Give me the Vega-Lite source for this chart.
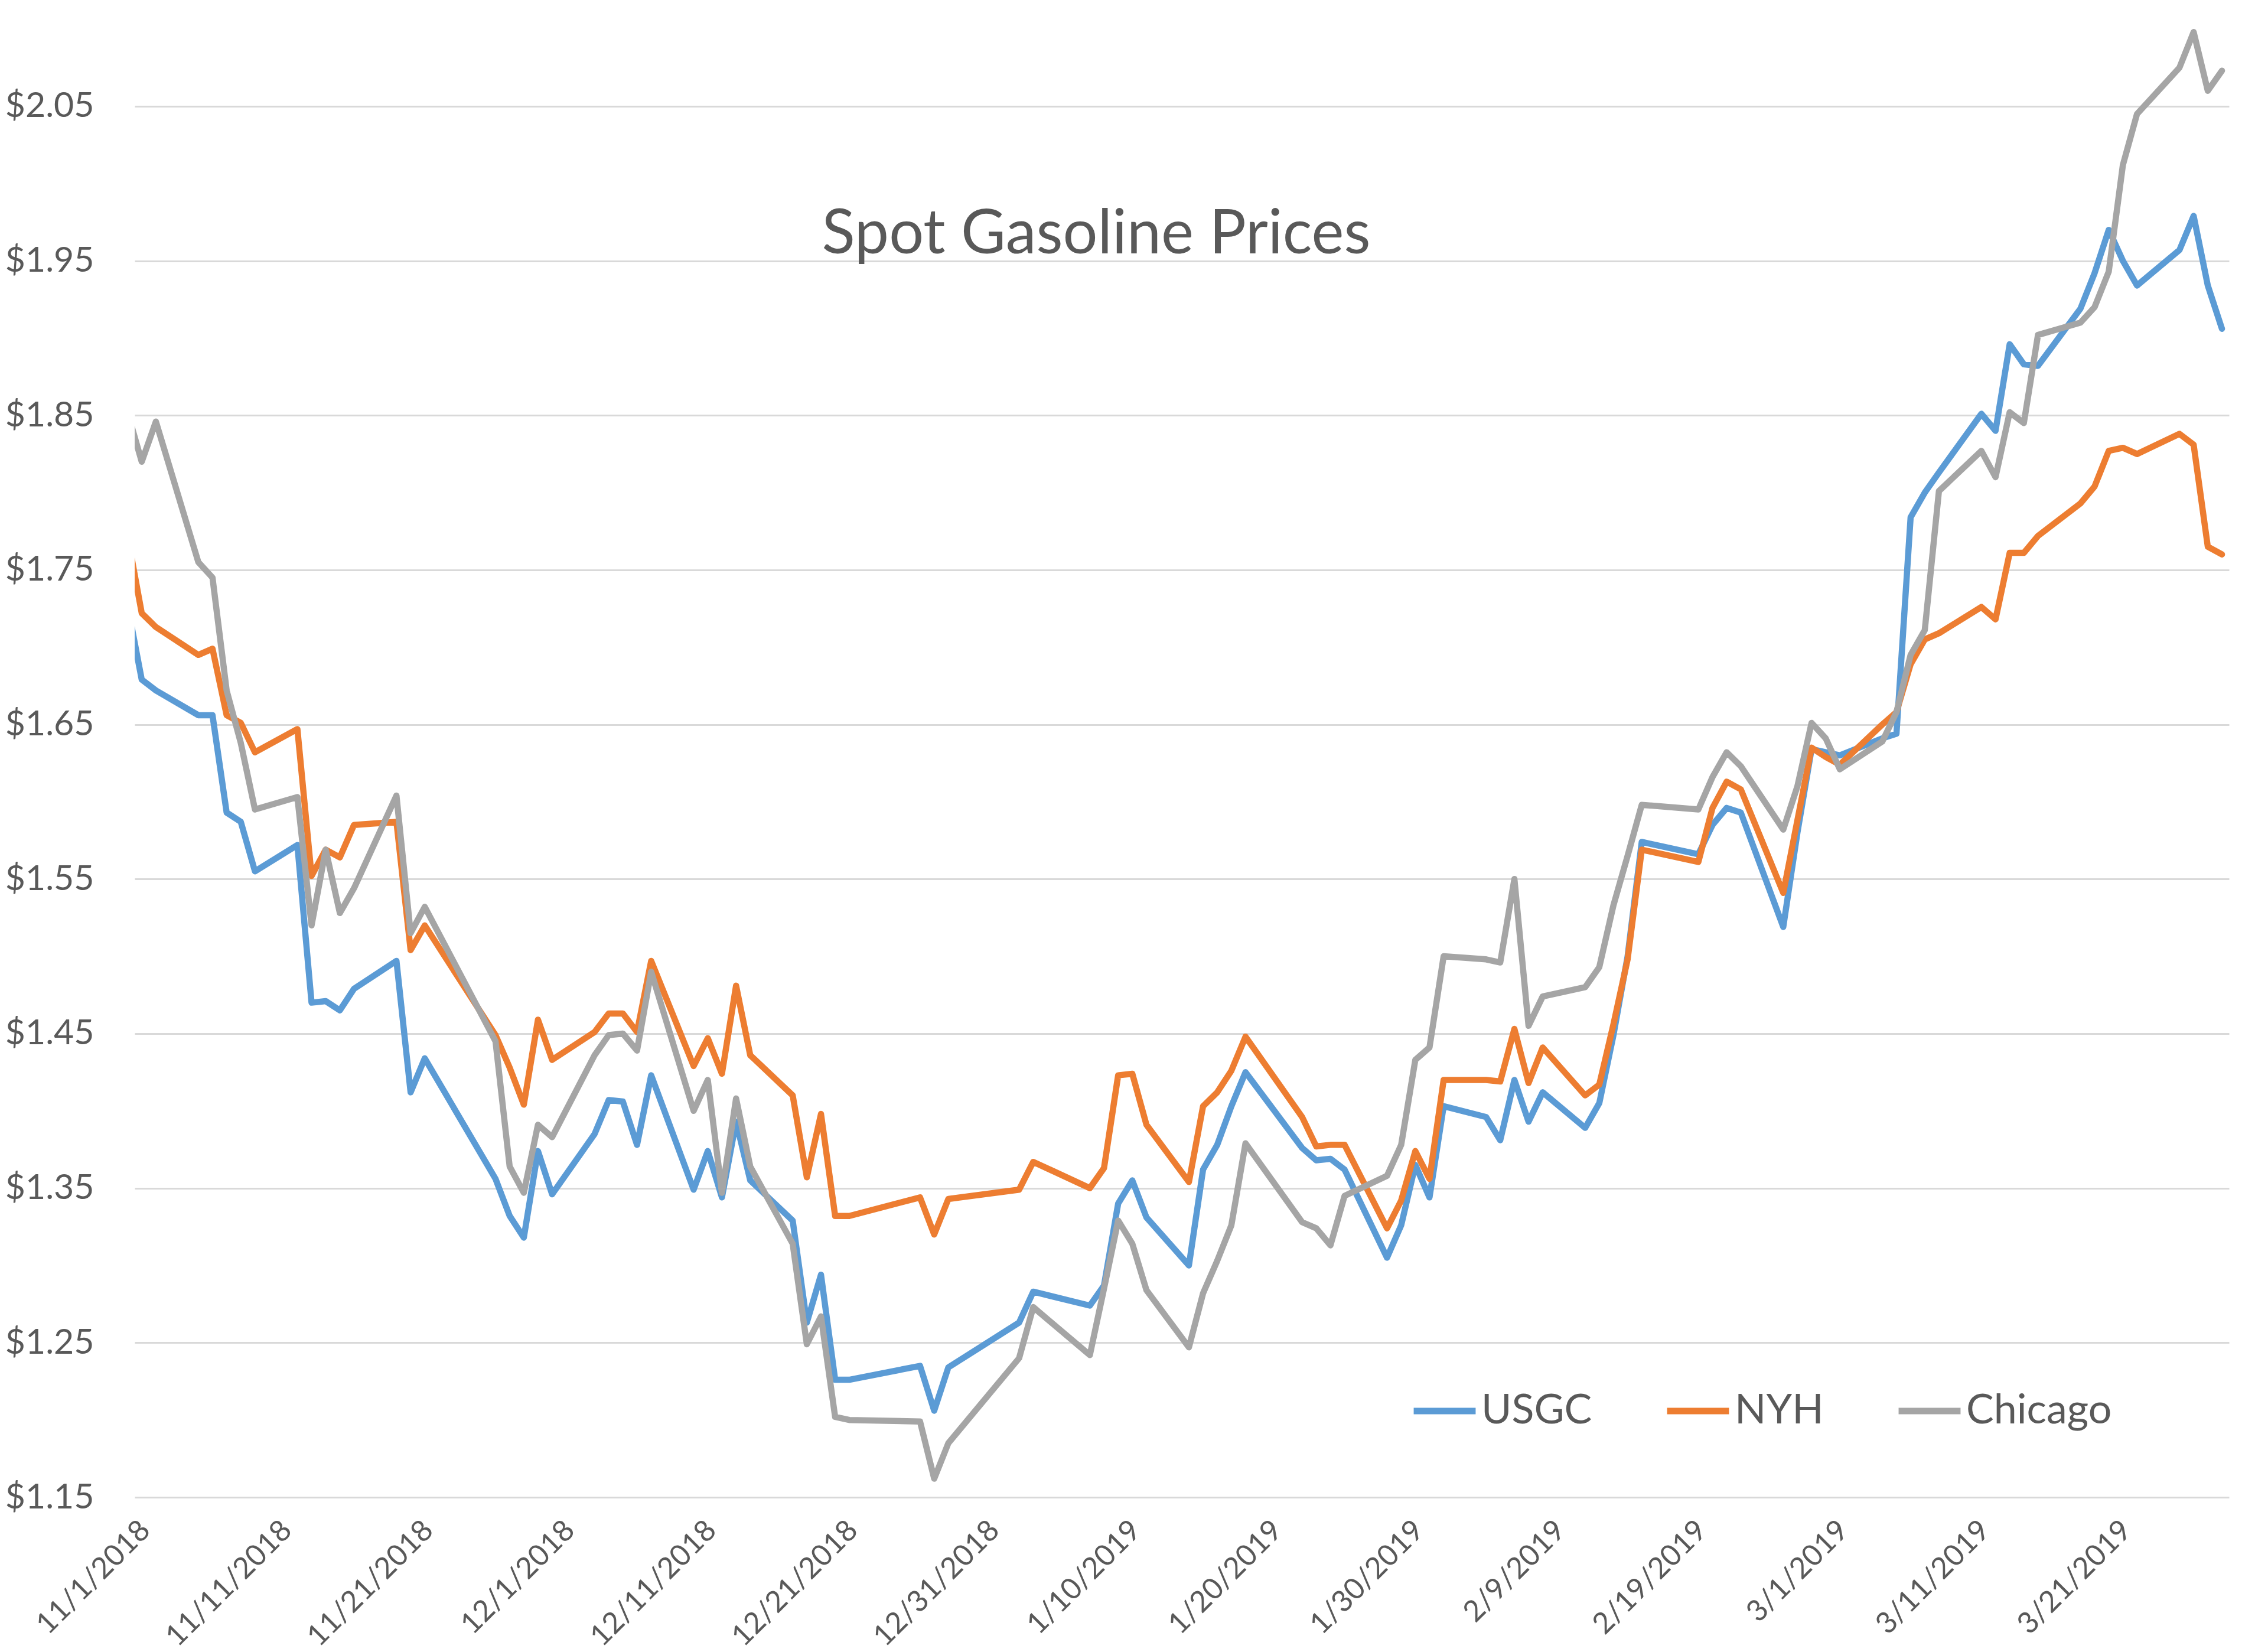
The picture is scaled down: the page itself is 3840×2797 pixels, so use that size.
{
  "$schema": "https://vega.github.io/schema/vega-lite/v6.json",
  "width": 3546,
  "height": 2486,
  "autosize": {"type": "none"},
  "padding": {"left": 228, "top": 49, "right": 66, "bottom": 262},
  "background": "white",
  "config": {"view": {"stroke": null}, "font": "Lato"},
  "title": {"text": "Spot Gasoline Prices", "fontSize": 104, "font": "Lato", "fontWeight": "normal", "color": "#595959", "anchor": "middle", "frame": "group", "baseline": "middle", "offset": -453, "dx": -145},
  "data": {"values": [
    {"date":"2018-10-31","hub":"USGC","price":1.727},
    {"date":"2018-11-01","hub":"USGC","price":1.679},
    {"date":"2018-11-02","hub":"USGC","price":1.672},
    {"date":"2018-11-05","hub":"USGC","price":1.656},
    {"date":"2018-11-06","hub":"USGC","price":1.656},
    {"date":"2018-11-07","hub":"USGC","price":1.593},
    {"date":"2018-11-08","hub":"USGC","price":1.587},
    {"date":"2018-11-09","hub":"USGC","price":1.555},
    {"date":"2018-11-12","hub":"USGC","price":1.572},
    {"date":"2018-11-13","hub":"USGC","price":1.470},
    {"date":"2018-11-14","hub":"USGC","price":1.471},
    {"date":"2018-11-15","hub":"USGC","price":1.465},
    {"date":"2018-11-16","hub":"USGC","price":1.479},
    {"date":"2018-11-19","hub":"USGC","price":1.497},
    {"date":"2018-11-20","hub":"USGC","price":1.412},
    {"date":"2018-11-21","hub":"USGC","price":1.434},
    {"date":"2018-11-26","hub":"USGC","price":1.356},
    {"date":"2018-11-27","hub":"USGC","price":1.332},
    {"date":"2018-11-28","hub":"USGC","price":1.318},
    {"date":"2018-11-29","hub":"USGC","price":1.374},
    {"date":"2018-11-30","hub":"USGC","price":1.346},
    {"date":"2018-12-03","hub":"USGC","price":1.385},
    {"date":"2018-12-04","hub":"USGC","price":1.407},
    {"date":"2018-12-05","hub":"USGC","price":1.406},
    {"date":"2018-12-06","hub":"USGC","price":1.378},
    {"date":"2018-12-07","hub":"USGC","price":1.423},
    {"date":"2018-12-10","hub":"USGC","price":1.349},
    {"date":"2018-12-11","hub":"USGC","price":1.374},
    {"date":"2018-12-12","hub":"USGC","price":1.344},
    {"date":"2018-12-13","hub":"USGC","price":1.393},
    {"date":"2018-12-14","hub":"USGC","price":1.355},
    {"date":"2018-12-17","hub":"USGC","price":1.329},
    {"date":"2018-12-18","hub":"USGC","price":1.263},
    {"date":"2018-12-19","hub":"USGC","price":1.294},
    {"date":"2018-12-20","hub":"USGC","price":1.226},
    {"date":"2018-12-21","hub":"USGC","price":1.226},
    {"date":"2018-12-26","hub":"USGC","price":1.235},
    {"date":"2018-12-27","hub":"USGC","price":1.206},
    {"date":"2018-12-28","hub":"USGC","price":1.234},
    {"date":"2019-01-02","hub":"USGC","price":1.263},
    {"date":"2019-01-03","hub":"USGC","price":1.283},
    {"date":"2019-01-07","hub":"USGC","price":1.274},
    {"date":"2019-01-08","hub":"USGC","price":1.287},
    {"date":"2019-01-09","hub":"USGC","price":1.340},
    {"date":"2019-01-10","hub":"USGC","price":1.355},
    {"date":"2019-01-11","hub":"USGC","price":1.331},
    {"date":"2019-01-14","hub":"USGC","price":1.300},
    {"date":"2019-01-15","hub":"USGC","price":1.362},
    {"date":"2019-01-16","hub":"USGC","price":1.378},
    {"date":"2019-01-17","hub":"USGC","price":1.403},
    {"date":"2019-01-18","hub":"USGC","price":1.425},
    {"date":"2019-01-22","hub":"USGC","price":1.376},
    {"date":"2019-01-23","hub":"USGC","price":1.368},
    {"date":"2019-01-24","hub":"USGC","price":1.369},
    {"date":"2019-01-25","hub":"USGC","price":1.362},
    {"date":"2019-01-28","hub":"USGC","price":1.305},
    {"date":"2019-01-29","hub":"USGC","price":1.326},
    {"date":"2019-01-30","hub":"USGC","price":1.365},
    {"date":"2019-01-31","hub":"USGC","price":1.344},
    {"date":"2019-02-01","hub":"USGC","price":1.403},
    {"date":"2019-02-04","hub":"USGC","price":1.396},
    {"date":"2019-02-05","hub":"USGC","price":1.381},
    {"date":"2019-02-06","hub":"USGC","price":1.420},
    {"date":"2019-02-07","hub":"USGC","price":1.393},
    {"date":"2019-02-08","hub":"USGC","price":1.412},
    {"date":"2019-02-11","hub":"USGC","price":1.389},
    {"date":"2019-02-12","hub":"USGC","price":1.405},
    {"date":"2019-02-13","hub":"USGC","price":1.449},
    {"date":"2019-02-14","hub":"USGC","price":1.500},
    {"date":"2019-02-15","hub":"USGC","price":1.574},
    {"date":"2019-02-19","hub":"USGC","price":1.566},
    {"date":"2019-02-20","hub":"USGC","price":1.585},
    {"date":"2019-02-21","hub":"USGC","price":1.596},
    {"date":"2019-02-22","hub":"USGC","price":1.593},
    {"date":"2019-02-25","hub":"USGC","price":1.519},
    {"date":"2019-02-26","hub":"USGC","price":1.580},
    {"date":"2019-02-27","hub":"USGC","price":1.634},
    {"date":"2019-02-28","hub":"USGC","price":1.632},
    {"date":"2019-03-01","hub":"USGC","price":1.630},
    {"date":"2019-03-04","hub":"USGC","price":1.641},
    {"date":"2019-03-05","hub":"USGC","price":1.644},
    {"date":"2019-03-06","hub":"USGC","price":1.784},
    {"date":"2019-03-07","hub":"USGC","price":1.800},
    {"date":"2019-03-08","hub":"USGC","price":1.813},
    {"date":"2019-03-11","hub":"USGC","price":1.851},
    {"date":"2019-03-12","hub":"USGC","price":1.840},
    {"date":"2019-03-13","hub":"USGC","price":1.896},
    {"date":"2019-03-14","hub":"USGC","price":1.883},
    {"date":"2019-03-15","hub":"USGC","price":1.882},
    {"date":"2019-03-18","hub":"USGC","price":1.919},
    {"date":"2019-03-19","hub":"USGC","price":1.942},
    {"date":"2019-03-20","hub":"USGC","price":1.970},
    {"date":"2019-03-21","hub":"USGC","price":1.950},
    {"date":"2019-03-22","hub":"USGC","price":1.934},
    {"date":"2019-03-25","hub":"USGC","price":1.957},
    {"date":"2019-03-26","hub":"USGC","price":1.979},
    {"date":"2019-03-27","hub":"USGC","price":1.934},
    {"date":"2019-03-28","hub":"USGC","price":1.906},

    {"date":"2018-10-31","hub":"NYH","price":1.772},
    {"date":"2018-11-01","hub":"NYH","price":1.722},
    {"date":"2018-11-02","hub":"NYH","price":1.713},
    {"date":"2018-11-05","hub":"NYH","price":1.695},
    {"date":"2018-11-06","hub":"NYH","price":1.699},
    {"date":"2018-11-07","hub":"NYH","price":1.656},
    {"date":"2018-11-08","hub":"NYH","price":1.651},
    {"date":"2018-11-09","hub":"NYH","price":1.632},
    {"date":"2018-11-12","hub":"NYH","price":1.647},
    {"date":"2018-11-13","hub":"NYH","price":1.552},
    {"date":"2018-11-14","hub":"NYH","price":1.569},
    {"date":"2018-11-15","hub":"NYH","price":1.564},
    {"date":"2018-11-16","hub":"NYH","price":1.585},
    {"date":"2018-11-19","hub":"NYH","price":1.587},
    {"date":"2018-11-20","hub":"NYH","price":1.504},
    {"date":"2018-11-21","hub":"NYH","price":1.520},
    {"date":"2018-11-26","hub":"NYH","price":1.449},
    {"date":"2018-11-27","hub":"NYH","price":1.428},
    {"date":"2018-11-28","hub":"NYH","price":1.404},
    {"date":"2018-11-29","hub":"NYH","price":1.459},
    {"date":"2018-11-30","hub":"NYH","price":1.433},
    {"date":"2018-12-03","hub":"NYH","price":1.451},
    {"date":"2018-12-04","hub":"NYH","price":1.463},
    {"date":"2018-12-05","hub":"NYH","price":1.463},
    {"date":"2018-12-06","hub":"NYH","price":1.451},
    {"date":"2018-12-07","hub":"NYH","price":1.497},
    {"date":"2018-12-10","hub":"NYH","price":1.429},
    {"date":"2018-12-11","hub":"NYH","price":1.447},
    {"date":"2018-12-12","hub":"NYH","price":1.424},
    {"date":"2018-12-13","hub":"NYH","price":1.481},
    {"date":"2018-12-14","hub":"NYH","price":1.436},
    {"date":"2018-12-17","hub":"NYH","price":1.410},
    {"date":"2018-12-18","hub":"NYH","price":1.357},
    {"date":"2018-12-19","hub":"NYH","price":1.398},
    {"date":"2018-12-20","hub":"NYH","price":1.332},
    {"date":"2018-12-21","hub":"NYH","price":1.332},
    {"date":"2018-12-26","hub":"NYH","price":1.344},
    {"date":"2018-12-27","hub":"NYH","price":1.320},
    {"date":"2018-12-28","hub":"NYH","price":1.343},
    {"date":"2019-01-02","hub":"NYH","price":1.349},
    {"date":"2019-01-03","hub":"NYH","price":1.367},
    {"date":"2019-01-07","hub":"NYH","price":1.350},
    {"date":"2019-01-08","hub":"NYH","price":1.363},
    {"date":"2019-01-09","hub":"NYH","price":1.423},
    {"date":"2019-01-10","hub":"NYH","price":1.424},
    {"date":"2019-01-11","hub":"NYH","price":1.391},
    {"date":"2019-01-14","hub":"NYH","price":1.354},
    {"date":"2019-01-15","hub":"NYH","price":1.403},
    {"date":"2019-01-16","hub":"NYH","price":1.412},
    {"date":"2019-01-17","hub":"NYH","price":1.426},
    {"date":"2019-01-18","hub":"NYH","price":1.448},
    {"date":"2019-01-22","hub":"NYH","price":1.396},
    {"date":"2019-01-23","hub":"NYH","price":1.377},
    {"date":"2019-01-24","hub":"NYH","price":1.378},
    {"date":"2019-01-25","hub":"NYH","price":1.378},
    {"date":"2019-01-28","hub":"NYH","price":1.324},
    {"date":"2019-01-29","hub":"NYH","price":1.342},
    {"date":"2019-01-30","hub":"NYH","price":1.374},
    {"date":"2019-01-31","hub":"NYH","price":1.356},
    {"date":"2019-02-01","hub":"NYH","price":1.420},
    {"date":"2019-02-04","hub":"NYH","price":1.420},
    {"date":"2019-02-05","hub":"NYH","price":1.419},
    {"date":"2019-02-06","hub":"NYH","price":1.453},
    {"date":"2019-02-07","hub":"NYH","price":1.418},
    {"date":"2019-02-08","hub":"NYH","price":1.441},
    {"date":"2019-02-11","hub":"NYH","price":1.410},
    {"date":"2019-02-12","hub":"NYH","price":1.417},
    {"date":"2019-02-13","hub":"NYH","price":1.456},
    {"date":"2019-02-14","hub":"NYH","price":1.498},
    {"date":"2019-02-15","hub":"NYH","price":1.569},
    {"date":"2019-02-19","hub":"NYH","price":1.561},
    {"date":"2019-02-20","hub":"NYH","price":1.596},
    {"date":"2019-02-21","hub":"NYH","price":1.613},
    {"date":"2019-02-22","hub":"NYH","price":1.608},
    {"date":"2019-02-25","hub":"NYH","price":1.541},
    {"date":"2019-02-26","hub":"NYH","price":1.588},
    {"date":"2019-02-27","hub":"NYH","price":1.635},
    {"date":"2019-02-28","hub":"NYH","price":1.629},
    {"date":"2019-03-01","hub":"NYH","price":1.624},
    {"date":"2019-03-04","hub":"NYH","price":1.650},
    {"date":"2019-03-05","hub":"NYH","price":1.658},
    {"date":"2019-03-06","hub":"NYH","price":1.689},
    {"date":"2019-03-07","hub":"NYH","price":1.705},
    {"date":"2019-03-08","hub":"NYH","price":1.709},
    {"date":"2019-03-11","hub":"NYH","price":1.726},
    {"date":"2019-03-12","hub":"NYH","price":1.718},
    {"date":"2019-03-13","hub":"NYH","price":1.761},
    {"date":"2019-03-14","hub":"NYH","price":1.761},
    {"date":"2019-03-15","hub":"NYH","price":1.772},
    {"date":"2019-03-18","hub":"NYH","price":1.793},
    {"date":"2019-03-19","hub":"NYH","price":1.804},
    {"date":"2019-03-20","hub":"NYH","price":1.827},
    {"date":"2019-03-21","hub":"NYH","price":1.829},
    {"date":"2019-03-22","hub":"NYH","price":1.825},
    {"date":"2019-03-25","hub":"NYH","price":1.838},
    {"date":"2019-03-26","hub":"NYH","price":1.831},
    {"date":"2019-03-27","hub":"NYH","price":1.765},
    {"date":"2019-03-28","hub":"NYH","price":1.760},

    {"date":"2018-10-31","hub":"Chicago","price":1.852},
    {"date":"2018-11-01","hub":"Chicago","price":1.820},
    {"date":"2018-11-02","hub":"Chicago","price":1.846},
    {"date":"2018-11-05","hub":"Chicago","price":1.755},
    {"date":"2018-11-06","hub":"Chicago","price":1.745},
    {"date":"2018-11-07","hub":"Chicago","price":1.672},
    {"date":"2018-11-08","hub":"Chicago","price":1.638},
    {"date":"2018-11-09","hub":"Chicago","price":1.595},
    {"date":"2018-11-12","hub":"Chicago","price":1.603},
    {"date":"2018-11-13","hub":"Chicago","price":1.520},
    {"date":"2018-11-14","hub":"Chicago","price":1.569},
    {"date":"2018-11-15","hub":"Chicago","price":1.528},
    {"date":"2018-11-16","hub":"Chicago","price":1.544},
    {"date":"2018-11-19","hub":"Chicago","price":1.604},
    {"date":"2018-11-20","hub":"Chicago","price":1.515},
    {"date":"2018-11-21","hub":"Chicago","price":1.532},
    {"date":"2018-11-26","hub":"Chicago","price":1.445},
    {"date":"2018-11-27","hub":"Chicago","price":1.364},
    {"date":"2018-11-28","hub":"Chicago","price":1.347},
    {"date":"2018-11-29","hub":"Chicago","price":1.391},
    {"date":"2018-11-30","hub":"Chicago","price":1.383},
    {"date":"2018-12-03","hub":"Chicago","price":1.436},
    {"date":"2018-12-04","hub":"Chicago","price":1.449},
    {"date":"2018-12-05","hub":"Chicago","price":1.450},
    {"date":"2018-12-06","hub":"Chicago","price":1.439},
    {"date":"2018-12-07","hub":"Chicago","price":1.490},
    {"date":"2018-12-10","hub":"Chicago","price":1.400},
    {"date":"2018-12-11","hub":"Chicago","price":1.420},
    {"date":"2018-12-12","hub":"Chicago","price":1.347},
    {"date":"2018-12-13","hub":"Chicago","price":1.408},
    {"date":"2018-12-14","hub":"Chicago","price":1.364},
    {"date":"2018-12-17","hub":"Chicago","price":1.314},
    {"date":"2018-12-18","hub":"Chicago","price":1.249},
    {"date":"2018-12-19","hub":"Chicago","price":1.267},
    {"date":"2018-12-20","hub":"Chicago","price":1.202},
    {"date":"2018-12-21","hub":"Chicago","price":1.200},
    {"date":"2018-12-26","hub":"Chicago","price":1.199},
    {"date":"2018-12-27","hub":"Chicago","price":1.162},
    {"date":"2018-12-28","hub":"Chicago","price":1.185},
    {"date":"2019-01-02","hub":"Chicago","price":1.240},
    {"date":"2019-01-03","hub":"Chicago","price":1.273},
    {"date":"2019-01-07","hub":"Chicago","price":1.242},
    {"date":"2019-01-08","hub":"Chicago","price":1.285},
    {"date":"2019-01-09","hub":"Chicago","price":1.329},
    {"date":"2019-01-10","hub":"Chicago","price":1.314},
    {"date":"2019-01-11","hub":"Chicago","price":1.284},
    {"date":"2019-01-14","hub":"Chicago","price":1.247},
    {"date":"2019-01-15","hub":"Chicago","price":1.282},
    {"date":"2019-01-16","hub":"Chicago","price":1.303},
    {"date":"2019-01-17","hub":"Chicago","price":1.326},
    {"date":"2019-01-18","hub":"Chicago","price":1.379},
    {"date":"2019-01-22","hub":"Chicago","price":1.328},
    {"date":"2019-01-23","hub":"Chicago","price":1.324},
    {"date":"2019-01-24","hub":"Chicago","price":1.313},
    {"date":"2019-01-25","hub":"Chicago","price":1.345},
    {"date":"2019-01-28","hub":"Chicago","price":1.358},
    {"date":"2019-01-29","hub":"Chicago","price":1.378},
    {"date":"2019-01-30","hub":"Chicago","price":1.433},
    {"date":"2019-01-31","hub":"Chicago","price":1.441},
    {"date":"2019-02-01","hub":"Chicago","price":1.500},
    {"date":"2019-02-04","hub":"Chicago","price":1.498},
    {"date":"2019-02-05","hub":"Chicago","price":1.496},
    {"date":"2019-02-06","hub":"Chicago","price":1.550},
    {"date":"2019-02-07","hub":"Chicago","price":1.455},
    {"date":"2019-02-08","hub":"Chicago","price":1.474},
    {"date":"2019-02-11","hub":"Chicago","price":1.480},
    {"date":"2019-02-12","hub":"Chicago","price":1.493},
    {"date":"2019-02-13","hub":"Chicago","price":1.533},
    {"date":"2019-02-14","hub":"Chicago","price":1.565},
    {"date":"2019-02-15","hub":"Chicago","price":1.598},
    {"date":"2019-02-19","hub":"Chicago","price":1.595},
    {"date":"2019-02-20","hub":"Chicago","price":1.616},
    {"date":"2019-02-21","hub":"Chicago","price":1.632},
    {"date":"2019-02-22","hub":"Chicago","price":1.623},
    {"date":"2019-02-25","hub":"Chicago","price":1.582},
    {"date":"2019-02-26","hub":"Chicago","price":1.610},
    {"date":"2019-02-27","hub":"Chicago","price":1.651},
    {"date":"2019-02-28","hub":"Chicago","price":1.641},
    {"date":"2019-03-01","hub":"Chicago","price":1.621},
    {"date":"2019-03-04","hub":"Chicago","price":1.639},
    {"date":"2019-03-05","hub":"Chicago","price":1.658},
    {"date":"2019-03-06","hub":"Chicago","price":1.695},
    {"date":"2019-03-07","hub":"Chicago","price":1.711},
    {"date":"2019-03-08","hub":"Chicago","price":1.801},
    {"date":"2019-03-11","hub":"Chicago","price":1.827},
    {"date":"2019-03-12","hub":"Chicago","price":1.810},
    {"date":"2019-03-13","hub":"Chicago","price":1.852},
    {"date":"2019-03-14","hub":"Chicago","price":1.845},
    {"date":"2019-03-15","hub":"Chicago","price":1.902},
    {"date":"2019-03-18","hub":"Chicago","price":1.910},
    {"date":"2019-03-19","hub":"Chicago","price":1.920},
    {"date":"2019-03-20","hub":"Chicago","price":1.943},
    {"date":"2019-03-21","hub":"Chicago","price":2.012},
    {"date":"2019-03-22","hub":"Chicago","price":2.045},
    {"date":"2019-03-25","hub":"Chicago","price":2.075},
    {"date":"2019-03-26","hub":"Chicago","price":2.098},
    {"date":"2019-03-27","hub":"Chicago","price":2.060},
    {"date":"2019-03-28","hub":"Chicago","price":2.073}
  ]},
  "mark": {"type": "line", "strokeWidth": 10.5, "clip": true, "strokeJoin": "round", "strokeCap": "round"},
  "encoding": {
    "x": {
      "field": "date", "type": "temporal",
      "scale": {"type": "utc", "domain": [
        {"year": 2018, "month": 10, "date": 31, "hours": 12, "utc": true},
        {"year": 2019, "month": 3, "date": 28, "hours": 12, "utc": true}
      ]},
      "axis": {
        "values": [
          {"year": 2018, "month": 11, "date": 1, "utc": true},
          {"year": 2018, "month": 11, "date": 11, "utc": true},
          {"year": 2018, "month": 11, "date": 21, "utc": true},
          {"year": 2018, "month": 12, "date": 1, "utc": true},
          {"year": 2018, "month": 12, "date": 11, "utc": true},
          {"year": 2018, "month": 12, "date": 21, "utc": true},
          {"year": 2018, "month": 12, "date": 31, "utc": true},
          {"year": 2019, "month": 1, "date": 10, "utc": true},
          {"year": 2019, "month": 1, "date": 20, "utc": true},
          {"year": 2019, "month": 1, "date": 30, "utc": true},
          {"year": 2019, "month": 2, "date": 9, "utc": true},
          {"year": 2019, "month": 2, "date": 19, "utc": true},
          {"year": 2019, "month": 3, "date": 1, "utc": true},
          {"year": 2019, "month": 3, "date": 11, "utc": true},
          {"year": 2019, "month": 3, "date": 21, "utc": true}
        ],
        "format": "%-m/%-d/%Y",
        "labelAngle": -45,
        "labelAlign": "right",
        "labelBaseline": "middle",
        "labelPadding": 48,
        "labelOffset": 6,
        "labelFontSize": 50,
        "labelFont": "Lato",
        "labelColor": "#595959",
        "labelLimit": 1000,
        "labelOverlap": false,
        "labelFlush": false,
        "labelBound": false,
        "ticks": false,
        "tickSize": 0,
        "domain": false,
        "grid": false,
        "title": null
      }
    },
    "y": {
      "field": "price", "type": "quantitative",
      "scale": {"domain": [1.15, 2.10], "nice": false, "zero": false},
      "axis": {
        "values": [1.15, 1.25, 1.35, 1.45, 1.55, 1.65, 1.75, 1.85, 1.95, 2.05],
        "format": "$.2f",
        "labelFontSize": 59,
        "labelFont": "Lato",
        "labelColor": "#595959",
        "labelPadding": 69,
        "labelLimit": 1000,
        "labelOverlap": false,
        "ticks": false,
        "tickSize": 0,
        "domain": false,
        "grid": true,
        "gridColor": "#D9D9D9",
        "gridWidth": 3,
        "title": null
      }
    },
    "color": {
      "field": "hub", "type": "nominal",
      "scale": {"domain": ["USGC", "NYH", "Chicago"], "range": ["#5B9BD5", "#ED7D31", "#A5A5A5"]},
      "legend": {
        "orient": "none",
        "legendX": 2160,
        "legendY": 2282,
        "direction": "horizontal",
        "title": null,
        "padding": 0,
        "symbolType": "stroke",
        "symbolSize": 11000,
        "symbolStrokeWidth": 11,
        "labelFontSize": 70,
        "labelFont": "Lato",
        "labelColor": "#595959",
        "labelOffset": 4,
        "labelLimit": 1000,
        "columnPadding": 104
      }
    }
  }
}
